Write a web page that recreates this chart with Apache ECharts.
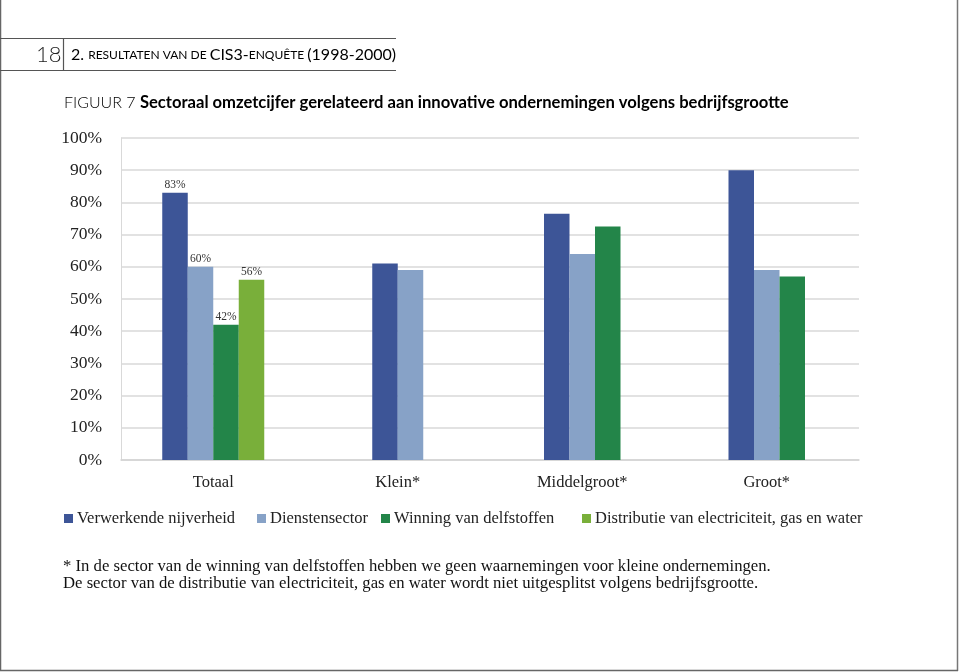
<!DOCTYPE html>
<html>
<head>
<meta charset="utf-8">
<script src="https://cdn.jsdelivr.net/npm/echarts@6/dist/echarts.min.js"></script>
<style>html,body{margin:0;padding:0;background:#fff}#c{width:960px;height:672px}</style>
</head>
<body>
<div id="c"></div>
<script>
const categories = ['Totaal', 'Klein*', 'Middelgroot*', 'Groot*'];
const seriesNames = ['Verwerkende nijverheid', 'Dienstensector', 'Winning van delfstoffen', 'Distributie van electriciteit, gas en water'];
const verwerkende = [83, 61, 76.5, 90];
const dienstensector = [60, 59, 64, 59];
const winning = [42, null, 72.5, 57];
const distributie = [56, null, null, null];
const labelledCategories = [true, false, false, false];
const yTicks = [0, 10, 20, 30, 40, 50, 60, 70, 80, 90, 100];

const allValues = [verwerkende, dienstensector, winning, distributie];
const colors = ['#3d5597', '#87a2c7', '#238549', '#79af3a'];
const SERIF = '"Liberation Serif", "Times New Roman", serif';
const SANS = 'Lato, "Open Sans", sans-serif';
const BAR_W = 25.5;

function makeRender(si) {
  return function (params, api) {
    const cat = api.value(0);
    const val = api.value(1);
    const present = allValues.map(a => a[cat] != null);
    const count = present.filter(Boolean).length;
    let slot = 0;
    for (let i = 0; i < si; i++) if (present[i]) slot++;
    const base = api.coord([cat, 0]);
    const top = api.coord([cat, val]);
    const x0 = base[0] - count * BAR_W / 2 + slot * BAR_W;
    const el = {
      type: 'rect',
      shape: { x: x0, y: top[1], width: BAR_W, height: base[1] - top[1] },
      style: { fill: colors[si] }
    };
    if (labelledCategories[cat]) {
      el.textContent = {
        style: { text: Math.round(val) + '%', fill: '#333', font: '11.5px ' + SERIF }
      };
      el.textConfig = { position: 'top', distance: 2 };
    }
    return el;
  };
}

const series = allValues.map((arr, si) => ({
  name: seriesNames[si],
  type: 'custom',
  renderItem: makeRender(si),
  itemStyle: { color: colors[si] },
  encode: { x: 0, y: 1 },
  data: arr.map((v, ci) => v == null ? null : [ci, v]).filter(d => d)
}));

const legendLefts = [64, 257, 381, 582];
const legends = seriesNames.map((n, i) => ({
  data: [n],
  left: legendLefts[i],
  top: 510,
  padding: 0,
  icon: 'rect',
  itemWidth: 9,
  itemHeight: 9,
  selectedMode: false,
  textStyle: { fontFamily: SERIF, fontSize: 16.5, color: '#222', padding: [0, 0, 0, -1] }
}));

const chart = echarts.init(document.getElementById('c'), null, { renderer: 'canvas' });
chart.setOption({
  backgroundColor: '#fff',
  animation: false,
  color: colors,
  grid: { left: 121, right: 101, top: 138, bottom: 212 },
  legend: legends,
  xAxis: {
    type: 'category',
    data: categories,
    axisLine: { lineStyle: { color: '#d4d4d4', width: 1.5 } },
    axisTick: { show: false },
    axisLabel: { fontFamily: SERIF, fontSize: 16.5, color: '#222', margin: 14 }
  },
  yAxis: {
    type: 'value',
    min: yTicks[0],
    max: yTicks[yTicks.length - 1],
    interval: yTicks[1] - yTicks[0],
    axisLine: { show: true, lineStyle: { color: '#d9d9d9' } },
    axisTick: { show: false },
    axisLabel: { formatter: '{value}%', fontFamily: SERIF, fontSize: 17.5, color: '#222', margin: 19 },
    splitLine: { lineStyle: { color: '#d9d9d9', width: 1.5 } }
  },
  series: series,
  graphic: [
    { type: 'line', shape: { x1: 0.5, y1: 0, x2: 0.5, y2: 671 }, style: { stroke: '#666', lineWidth: 1.5 } },
    { type: 'line', shape: { x1: 957.5, y1: 0, x2: 957.5, y2: 671 }, style: { stroke: '#777', lineWidth: 1.5 } },
    { type: 'line', shape: { x1: 0, y1: 670.5, x2: 958, y2: 670.5 }, style: { stroke: '#666', lineWidth: 1.5 } },
    { type: 'line', shape: { x1: 0, y1: 38.5, x2: 396, y2: 38.5 }, style: { stroke: '#555', lineWidth: 1.2 } },
    { type: 'line', shape: { x1: 0, y1: 70.5, x2: 396, y2: 70.5 }, style: { stroke: '#555', lineWidth: 1.2 } },
    { type: 'line', shape: { x1: 63.5, y1: 38, x2: 63.5, y2: 71 }, style: { stroke: '#555', lineWidth: 1.2 } },
    { type: 'text', left: 36, top: 44, style: { text: '18', font: '300 22px ' + SANS, fill: '#222' } },
    { type: 'text', left: 71, top: 47, style: {
        text: '{a|2. }{b|RESULTATEN VAN DE }{a|CIS3-}{b|ENQUÊTE }{a|(1998-2000)}',
        rich: {
          a: { fontFamily: SANS, fontSize: 16, color: '#222' },
          b: { fontFamily: SANS, fontSize: 12, color: '#222' }
        }
      } },
    { type: 'text', left: 64, top: 94, style: {
        text: '{a|FIGUUR 7 }{b|Sectoraal omzetcijfer gerelateerd aan innovative ondernemingen volgens bedrijfsgrootte}',
        rich: {
          a: { fontFamily: SANS, fontSize: 16, fontWeight: 300, color: '#222' },
          b: { fontFamily: SANS, fontSize: 16.6, fontWeight: 'bold', color: '#222' }
        }
      } },
    { type: 'text', left: 63, top: 558, style: {
        text: '* In de sector van de winning van delfstoffen hebben we geen waarnemingen voor kleine ondernemingen.\nDe sector van de distributie van electriciteit, gas en water wordt niet uitgesplitst volgens bedrijfsgrootte.',
        font: '16.7px ' + SERIF, fill: '#111', lineHeight: 17
      } }
  ]
});
</script>
</body>
</html>
